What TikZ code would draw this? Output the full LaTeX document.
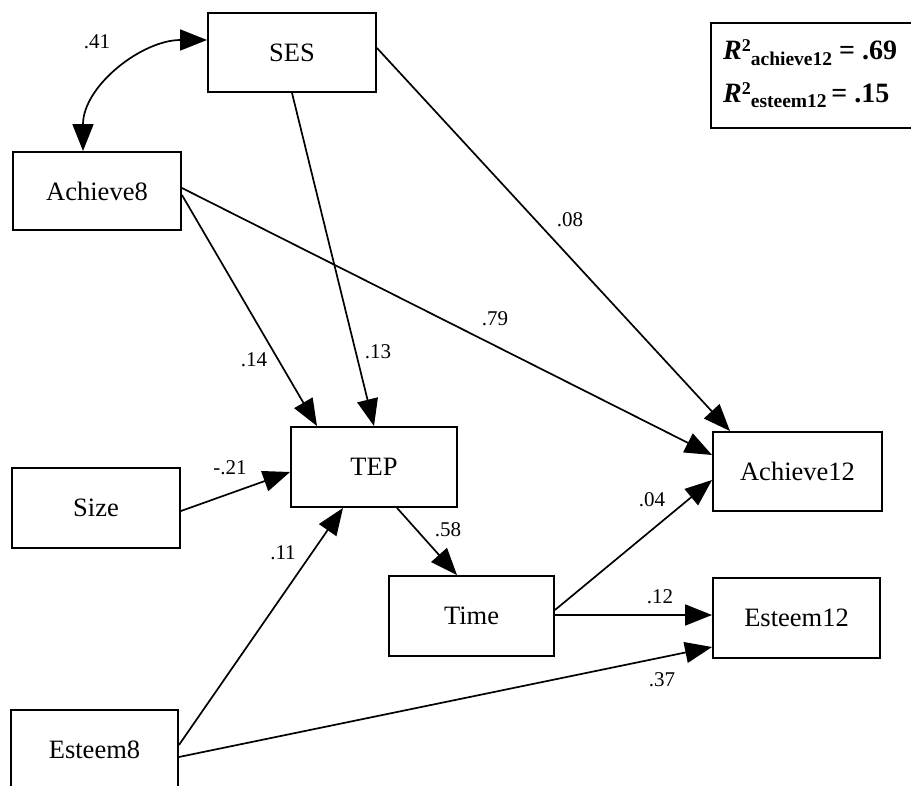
\documentclass[tikz,border=0pt]{standalone}
\usepackage{fontspec}
\setmainfont{Liberation Serif}
\usetikzlibrary{arrows.meta,calc}
\begin{document}
\begin{tikzpicture}[x=1pt,y=-1pt,
  box/.style={draw, line width=1.9pt, rectangle, minimum width=168pt, minimum height=80pt, inner sep=0pt, font=\fontsize{26.5}{30}\selectfont},
  conn/.style={line width=1.7pt, -{Triangle[length=27pt,width=21pt]}},
  lbl/.style={font=\fontsize{21}{24}\selectfont, inner sep=0pt}]
\useasboundingbox (0,0) rectangle (911,786);
\clip (0,0) rectangle (911,786);
% boxes
\node[box, minimum height=79pt] (SES) at (292,52.5) {SES};
\node[box, minimum height=78pt] (Ach8) at (97,191) {Achieve8};
\node[box, minimum width=166pt] (TEP) at (374,467) {TEP};
\node[box] (Size) at (96,508) {Size};
\node[box, minimum width=165pt] (Time) at (471.5,616) {Time};
\node[box, minimum width=169pt, minimum height=79pt] (Ach12) at (797.5,471.5) {Achieve12};
\node[box, minimum width=167pt] (Est12) at (796.5,618) {Esteem12};
\node[box, minimum width=167pt] (Est8) at (94.5,750) {Esteem8};
% R squared box
\node[draw, line width=1.9pt, anchor=north west, minimum width=230pt, minimum height=105pt, inner sep=0pt] (R2) at (710,22) {};
\node[anchor=base west, inner sep=0pt, font=\fontsize{28}{30}\selectfont\bfseries] (R2a) at (723,60)
  {\textit{R}\raisebox{8pt}{\fontsize{18}{18}\selectfont 2}\raisebox{-6pt}{\fontsize{19.5}{19.5}\selectfont achieve12} = .69};
\node[anchor=base west, inner sep=0pt, font=\fontsize{28}{30}\selectfont\bfseries] (R2b) at (723,103)
  {\textit{R}\raisebox{8pt}{\fontsize{18}{18}\selectfont 2}\raisebox{-5pt}{\fontsize{19.5}{19.5}\selectfont esteem12}\,= .15};
% connectors
\draw[line width=1.7pt, {Triangle[length=27pt,width=21pt]}-{Triangle[length=27pt,width=21pt]}]
  ([yshift=12.5pt]SES.west) to[out=180,in=90] ([xshift=-14pt]Ach8.north);
\draw[conn] ([yshift=4.5pt]SES.east) -- ([xshift=-67.5pt]Ach12.north);
\draw[conn] (SES.south) -- (TEP.north);
\draw[conn] ([yshift=-4pt]Ach8.east) -- ([xshift=-57pt]TEP.north);
\draw[conn] ([yshift=3pt]Ach8.east) -- ([yshift=16.5pt]Ach12.west);
\draw[conn] ([yshift=-3pt]Size.east) -- ([yshift=-5pt]TEP.west);
\draw[conn] ([yshift=5pt]Est8.east) -- ([xshift=-31pt]TEP.south);
\draw[conn] ([xshift=23pt]TEP.south) -- ([xshift=-14.5pt]Time.north);
\draw[conn] ([yshift=6pt]Time.east) -- ([yshift=-8.5pt]Ach12.west);
\draw[conn] ([yshift=1pt]Time.east) -- ([yshift=3pt]Est12.west);
\draw[conn] ([yshift=-7pt]Est8.east) -- ([yshift=-29pt]Est12.west);
% labels
\node[lbl] (l41) at (97,42) {.41};
\node[lbl] (l08) at (570,220) {.08};
\node[lbl] (l79) at (495,319) {.79};
\node[lbl] (l14) at (254,360) {.14};
\node[lbl] (l13) at (378,352) {.13};
\node[lbl] (l21) at (230,468) {-.21};
\node[lbl] (l11) at (283,553) {.11};
\node[lbl] (l58) at (448,530) {.58};
\node[lbl] (l04) at (652,500) {.04};
\node[lbl] (l12) at (660,597) {.12};
\node[lbl] (l37) at (662,680) {.37};
\end{tikzpicture}
\end{document}
